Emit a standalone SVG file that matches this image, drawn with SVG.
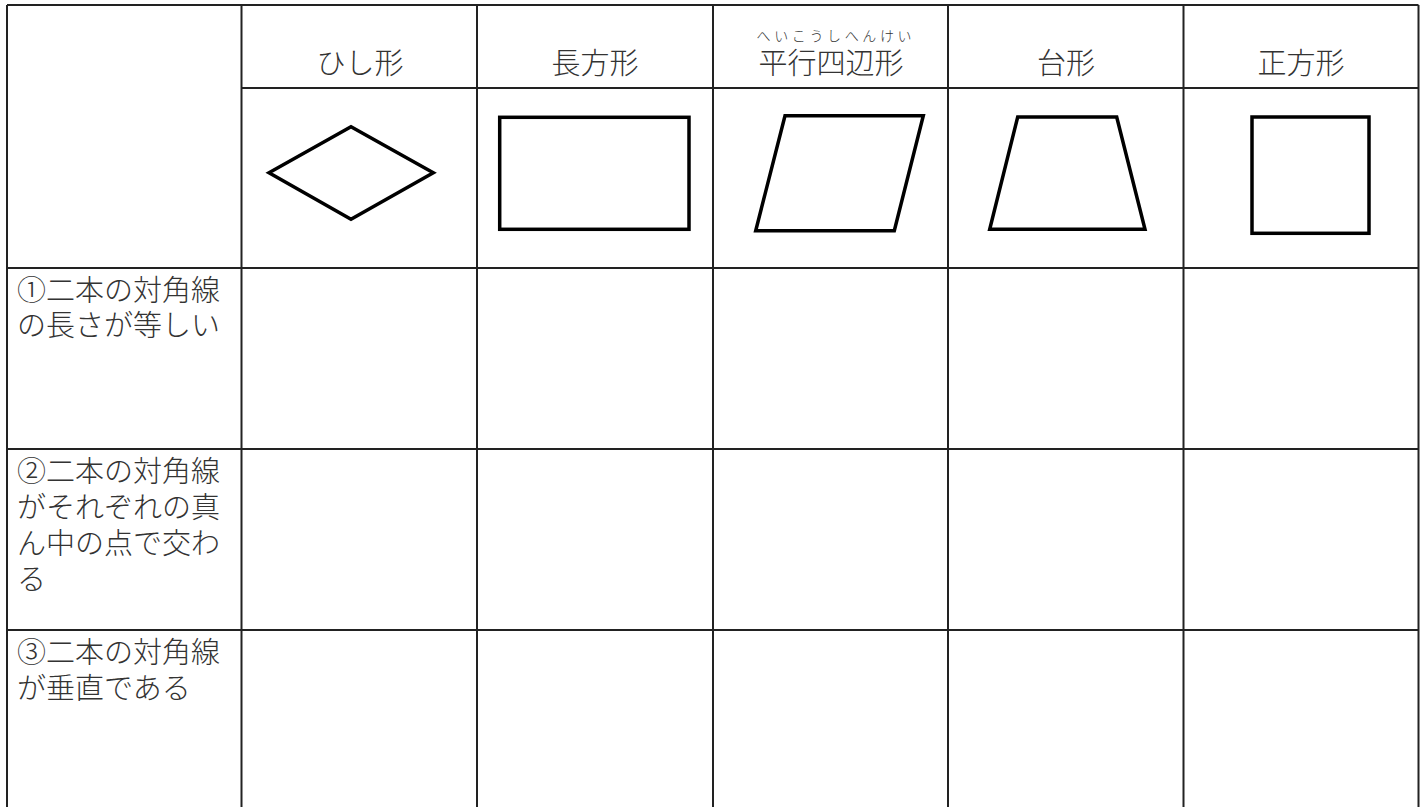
<svg xmlns="http://www.w3.org/2000/svg" width="1426" height="807" viewBox="0 0 1426 807">
<style>
.grid{stroke:#222;stroke-width:2;fill:none}
.shape{stroke:#000;stroke-width:3.5;fill:#fff;stroke-linejoin:miter}
.t{font-family:"Noto Sans CJK JP","Noto Sans CJK SC",sans-serif;fill:#333;font-size:29px;font-weight:300}
.h{text-anchor:middle}
.r{font-size:14px}
</style>
<rect width="1426" height="807" fill="#fff"/>
<g id="grid" class="grid">
<path d="M7 5 H1418.5 M7 5 V807 M1418.5 5 V807"/>
<path d="M241.5 5 V807 M477 5 V807 M713 5 V807 M948 5 V807 M1183.5 5 V807"/>
<path d="M241.5 88 H1418.5"/>
<path d="M7 268 H1418.5 M7 449 H1418.5 M7 630 H1418.5"/>
</g>
<g id="col-rhombus">
<text class="t h" x="360" y="74">ひし形</text>
<polygon class="shape" points="269,172.7 351,126.7 433.3,172.7 351,219.3"/>
</g>
<g id="col-rectangle">
<text class="t h" x="595" y="74">長方形</text>
<rect class="shape" x="499.7" y="117.3" width="189.3" height="112"/>
</g>
<g id="col-parallelogram">
<text class="t r h" x="834" y="41" textLength="155" lengthAdjust="spacing">へいこうしへんけい</text>
<text class="t h" x="831" y="74">平行四辺形</text>
<polygon class="shape" points="785,115.7 923.3,115.7 894.3,230.7 755.7,230.7"/>
</g>
<g id="col-trapezoid">
<text class="t h" x="1066" y="74">台形</text>
<polygon class="shape" points="1017.7,117 1116.7,117 1145,229.3 989.7,229.3"/>
</g>
<g id="col-square">
<text class="t h" x="1301" y="74">正方形</text>
<rect class="shape" x="1252" y="117" width="117" height="116.3"/>
</g>
<g id="row1">
<text class="t" x="17" y="301">①二本の対角線</text>
<text class="t" x="17" y="336">の長さが等しい</text>
</g>
<g id="row2">
<text class="t" x="17" y="482">②二本の対角線</text>
<text class="t" x="17" y="518">がそれぞれの真</text>
<text class="t" x="17" y="554">ん中の点で交わ</text>
<text class="t" x="17" y="590">る</text>
</g>
<g id="row3">
<text class="t" x="17" y="663">③二本の対角線</text>
<text class="t" x="17" y="699">が垂直である</text>
</g>
</svg>
